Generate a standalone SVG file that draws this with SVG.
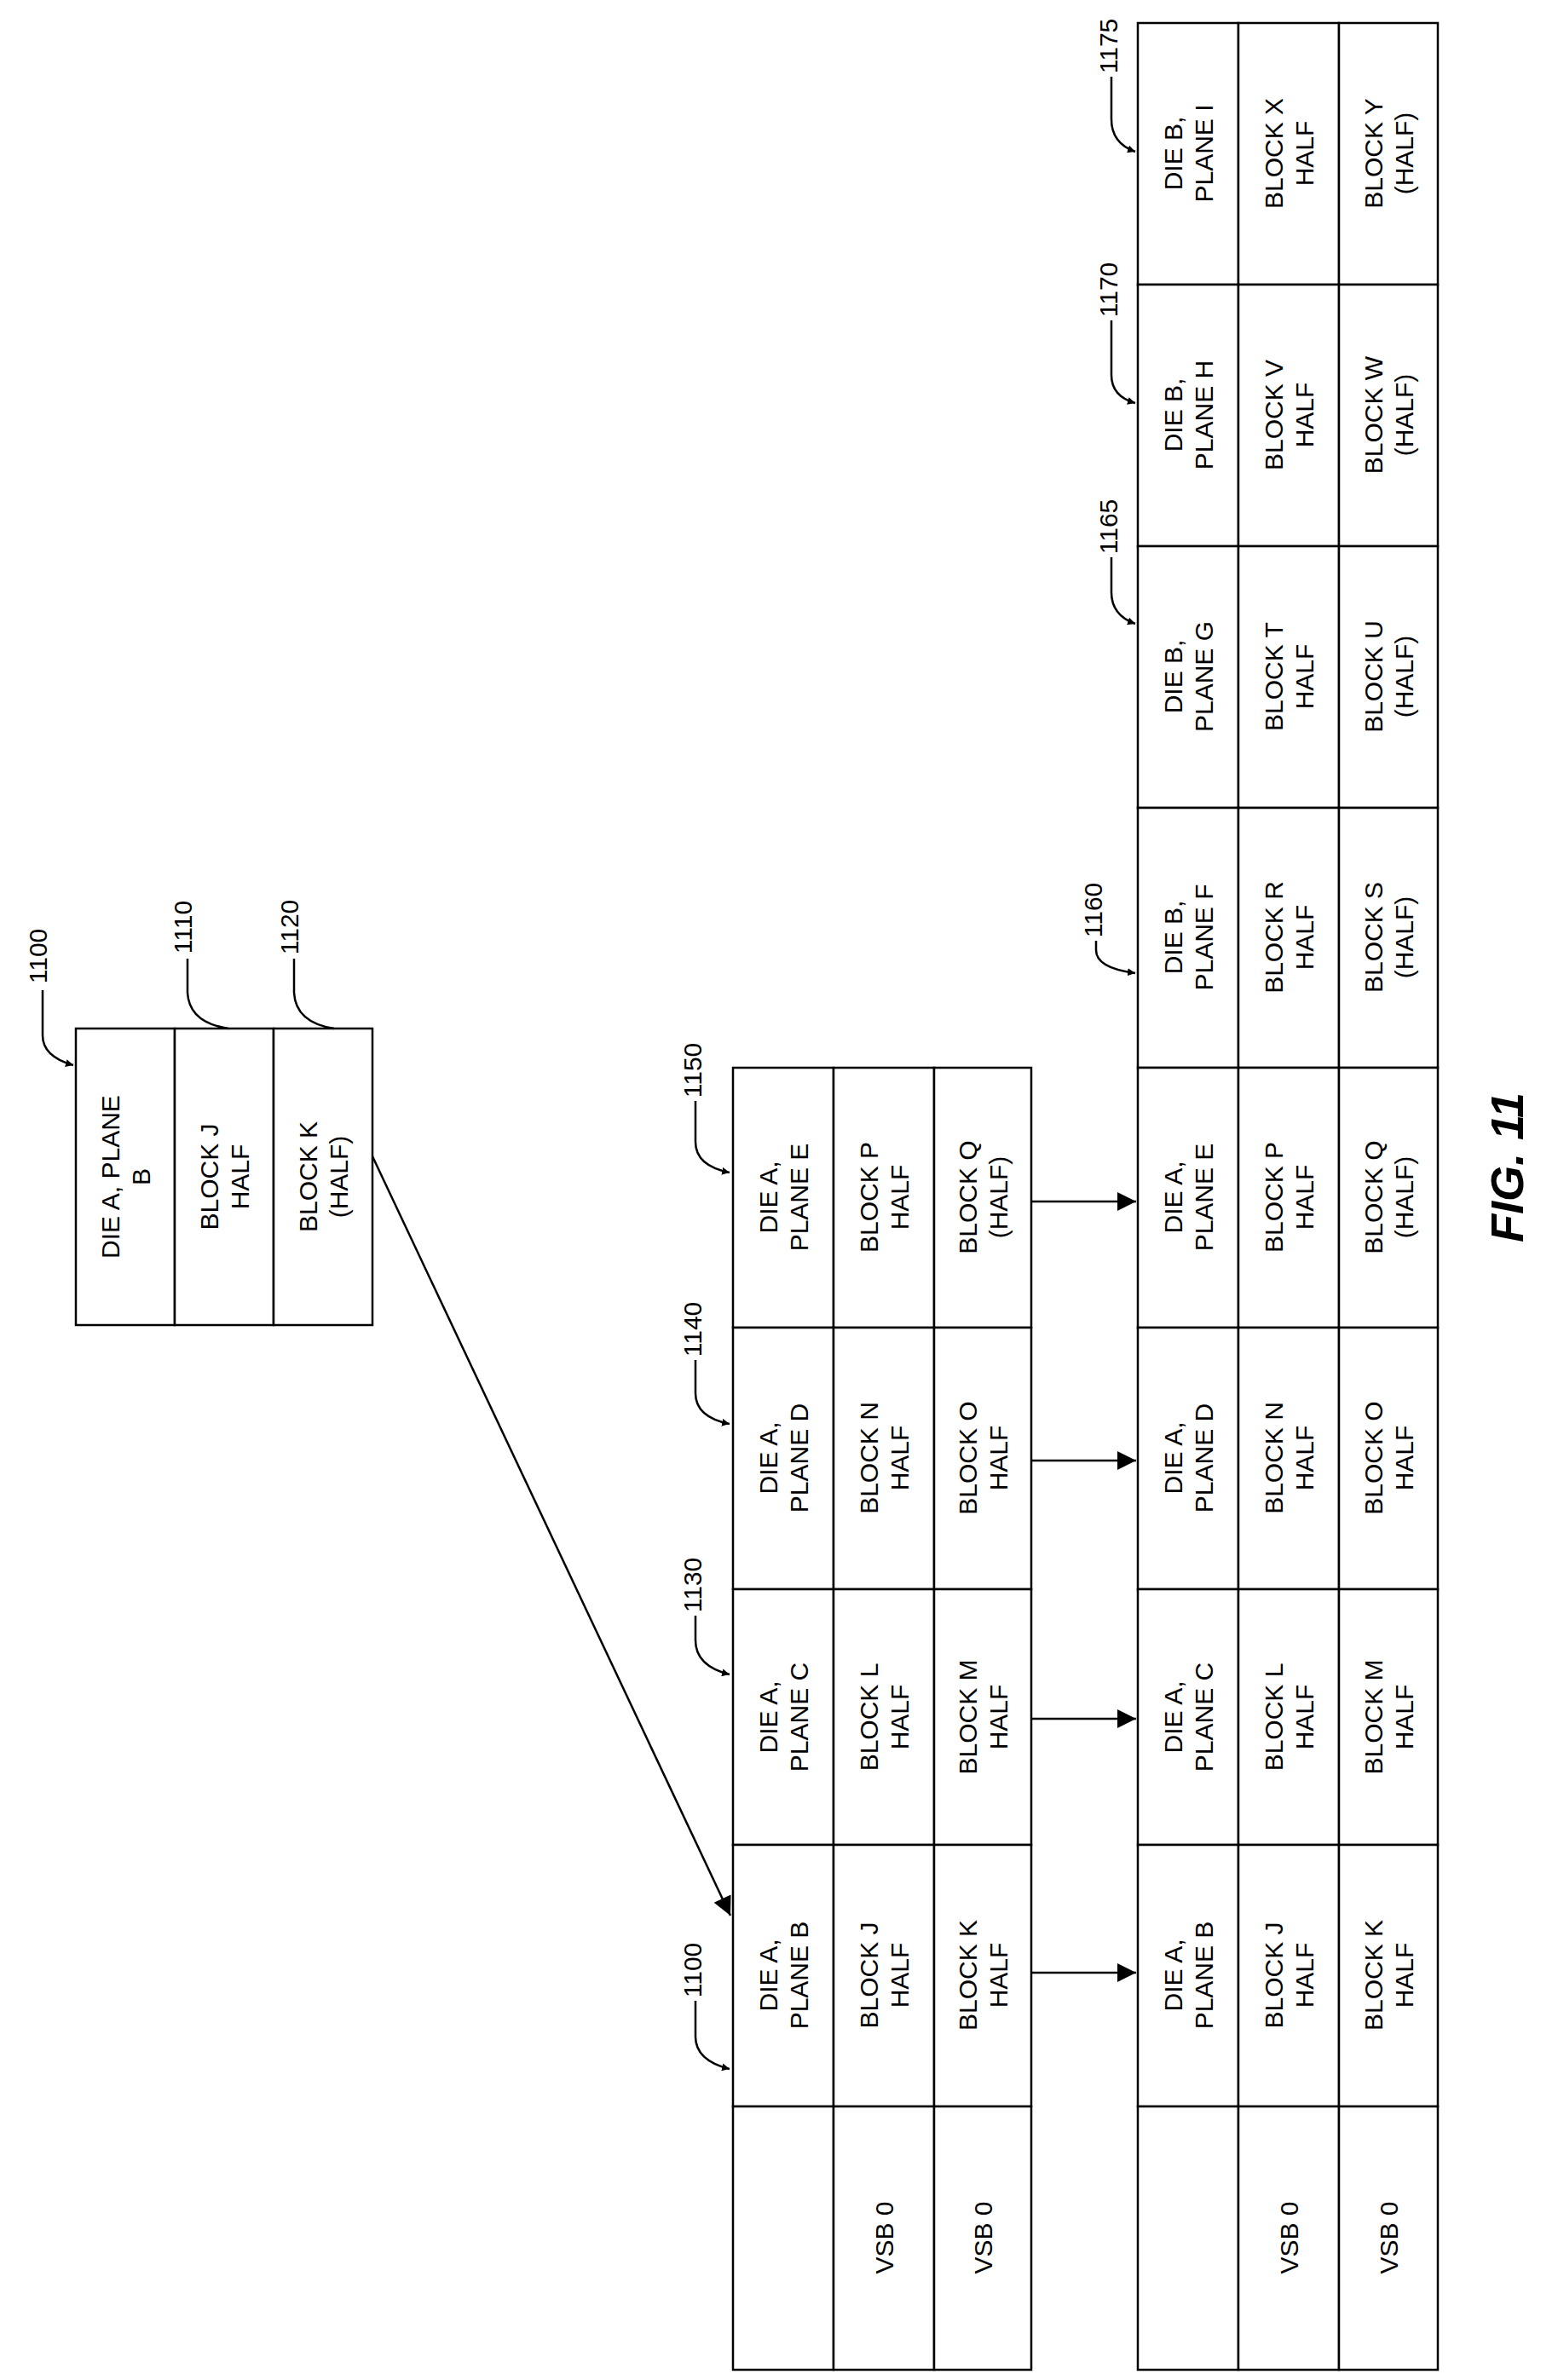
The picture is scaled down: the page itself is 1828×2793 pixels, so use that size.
<svg xmlns="http://www.w3.org/2000/svg" width="1828" height="2793" viewBox="0 0 1828 2793">
<style>
.c{fill:#fff;stroke:#000;stroke-width:2.5}
text{font-family:"Liberation Sans",Arial,sans-serif;font-size:30px;fill:#000;text-anchor:middle;dominant-baseline:central}
.l{fill:none;stroke:#000;stroke-width:2.5}
.fig{font-size:54px;font-weight:bold;font-style:italic}
</style>
<defs>
<marker id="a" viewBox="0 0 10 10" refX="10" refY="5" markerWidth="9" markerHeight="9" orient="auto" markerUnits="userSpaceOnUse"><path d="M0 0L10 5L0 10z"/></marker>
<marker id="b" viewBox="0 0 10 10" refX="10" refY="5" markerWidth="28" markerHeight="22" orient="auto" markerUnits="userSpaceOnUse"><path d="M0 0L10 5L0 10z" fill="#000"/></marker>
</defs>

<g id="n1100top">
<rect class="c" x="89" y="1207" width="116" height="348"/><rect class="c" x="205" y="1207" width="116" height="348"/><rect class="c" x="321" y="1207" width="116" height="348"/>
<text transform="translate(147,1381) rotate(-90)"><tspan x="0" y="-18">DIE A, PLANE</tspan><tspan x="0" y="18">B</tspan></text>
<text transform="translate(263,1381) rotate(-90)"><tspan x="0" y="-18">BLOCK J</tspan><tspan x="0" y="18">HALF</tspan></text>
<text transform="translate(379,1381) rotate(-90)"><tspan x="0" y="-18">BLOCK K</tspan><tspan x="0" y="18">(HALF)</tspan></text>
</g>

<g id="mid1150">
<rect class="c" x="860" y="1253" width="118" height="305"/><rect class="c" x="978" y="1253" width="118" height="305"/><rect class="c" x="1096" y="1253" width="114" height="305"/>
<text transform="translate(919,1405) rotate(-90)"><tspan x="0" y="-18">DIE A,</tspan><tspan x="0" y="18">PLANE E</tspan></text>
<text transform="translate(1037,1405) rotate(-90)"><tspan x="0" y="-18">BLOCK P</tspan><tspan x="0" y="18">HALF</tspan></text>
<text transform="translate(1153,1405) rotate(-90)"><tspan x="0" y="-18">BLOCK Q</tspan><tspan x="0" y="18">(HALF)</tspan></text>
</g>
<g id="mid1140">
<rect class="c" x="860" y="1558" width="118" height="307"/><rect class="c" x="978" y="1558" width="118" height="307"/><rect class="c" x="1096" y="1558" width="114" height="307"/>
<text transform="translate(919,1711) rotate(-90)"><tspan x="0" y="-18">DIE A,</tspan><tspan x="0" y="18">PLANE D</tspan></text>
<text transform="translate(1037,1711) rotate(-90)"><tspan x="0" y="-18">BLOCK N</tspan><tspan x="0" y="18">HALF</tspan></text>
<text transform="translate(1153,1711) rotate(-90)"><tspan x="0" y="-18">BLOCK O</tspan><tspan x="0" y="18">HALF</tspan></text>
</g>
<g id="mid1130">
<rect class="c" x="860" y="1865" width="118" height="300"/><rect class="c" x="978" y="1865" width="118" height="300"/><rect class="c" x="1096" y="1865" width="114" height="300"/>
<text transform="translate(919,2015) rotate(-90)"><tspan x="0" y="-18">DIE A,</tspan><tspan x="0" y="18">PLANE C</tspan></text>
<text transform="translate(1037,2015) rotate(-90)"><tspan x="0" y="-18">BLOCK L</tspan><tspan x="0" y="18">HALF</tspan></text>
<text transform="translate(1153,2015) rotate(-90)"><tspan x="0" y="-18">BLOCK M</tspan><tspan x="0" y="18">HALF</tspan></text>
</g>
<g id="mid1100">
<rect class="c" x="860" y="2165" width="118" height="307"/><rect class="c" x="978" y="2165" width="118" height="307"/><rect class="c" x="1096" y="2165" width="114" height="307"/>
<text transform="translate(919,2318) rotate(-90)"><tspan x="0" y="-18">DIE A,</tspan><tspan x="0" y="18">PLANE B</tspan></text>
<text transform="translate(1037,2318) rotate(-90)"><tspan x="0" y="-18">BLOCK J</tspan><tspan x="0" y="18">HALF</tspan></text>
<text transform="translate(1153,2318) rotate(-90)"><tspan x="0" y="-18">BLOCK K</tspan><tspan x="0" y="18">HALF</tspan></text>
</g>
<g id="midVSB">
<rect class="c" x="860" y="2472" width="118" height="309"/><rect class="c" x="978" y="2472" width="118" height="309"/><rect class="c" x="1096" y="2472" width="114" height="309"/>
<text transform="translate(1037,2626) rotate(-90)">VSB 0</text>
<text transform="translate(1153,2626) rotate(-90)">VSB 0</text>
</g>

<g id="r1175">
<rect class="c" x="1335" y="27" width="118" height="307"/><rect class="c" x="1453" y="27" width="118" height="307"/><rect class="c" x="1571" y="27" width="116" height="307"/>
<text transform="translate(1394,180) rotate(-90)"><tspan x="0" y="-18">DIE B,</tspan><tspan x="0" y="18">PLANE I</tspan></text>
<text transform="translate(1512,180) rotate(-90)"><tspan x="0" y="-18">BLOCK X</tspan><tspan x="0" y="18">HALF</tspan></text>
<text transform="translate(1629,180) rotate(-90)"><tspan x="0" y="-18">BLOCK Y</tspan><tspan x="0" y="18">(HALF)</tspan></text>
</g>
<g id="r1170">
<rect class="c" x="1335" y="334" width="118" height="307"/><rect class="c" x="1453" y="334" width="118" height="307"/><rect class="c" x="1571" y="334" width="116" height="307"/>
<text transform="translate(1394,487) rotate(-90)"><tspan x="0" y="-18">DIE B,</tspan><tspan x="0" y="18">PLANE H</tspan></text>
<text transform="translate(1512,487) rotate(-90)"><tspan x="0" y="-18">BLOCK V</tspan><tspan x="0" y="18">HALF</tspan></text>
<text transform="translate(1629,487) rotate(-90)"><tspan x="0" y="-18">BLOCK W</tspan><tspan x="0" y="18">(HALF)</tspan></text>
</g>
<g id="r1165">
<rect class="c" x="1335" y="641" width="118" height="307"/><rect class="c" x="1453" y="641" width="118" height="307"/><rect class="c" x="1571" y="641" width="116" height="307"/>
<text transform="translate(1394,794) rotate(-90)"><tspan x="0" y="-18">DIE B,</tspan><tspan x="0" y="18">PLANE G</tspan></text>
<text transform="translate(1512,794) rotate(-90)"><tspan x="0" y="-18">BLOCK T</tspan><tspan x="0" y="18">HALF</tspan></text>
<text transform="translate(1629,794) rotate(-90)"><tspan x="0" y="-18">BLOCK U</tspan><tspan x="0" y="18">(HALF)</tspan></text>
</g>
<g id="r1160">
<rect class="c" x="1335" y="948" width="118" height="305"/><rect class="c" x="1453" y="948" width="118" height="305"/><rect class="c" x="1571" y="948" width="116" height="305"/>
<text transform="translate(1394,1100) rotate(-90)"><tspan x="0" y="-18">DIE B,</tspan><tspan x="0" y="18">PLANE F</tspan></text>
<text transform="translate(1512,1100) rotate(-90)"><tspan x="0" y="-18">BLOCK R</tspan><tspan x="0" y="18">HALF</tspan></text>
<text transform="translate(1629,1100) rotate(-90)"><tspan x="0" y="-18">BLOCK S</tspan><tspan x="0" y="18">(HALF)</tspan></text>
</g>
<g id="r1150">
<rect class="c" x="1335" y="1253" width="118" height="305"/><rect class="c" x="1453" y="1253" width="118" height="305"/><rect class="c" x="1571" y="1253" width="116" height="305"/>
<text transform="translate(1394,1405) rotate(-90)"><tspan x="0" y="-18">DIE A,</tspan><tspan x="0" y="18">PLANE E</tspan></text>
<text transform="translate(1512,1405) rotate(-90)"><tspan x="0" y="-18">BLOCK P</tspan><tspan x="0" y="18">HALF</tspan></text>
<text transform="translate(1629,1405) rotate(-90)"><tspan x="0" y="-18">BLOCK Q</tspan><tspan x="0" y="18">(HALF)</tspan></text>
</g>
<g id="r1140">
<rect class="c" x="1335" y="1558" width="118" height="307"/><rect class="c" x="1453" y="1558" width="118" height="307"/><rect class="c" x="1571" y="1558" width="116" height="307"/>
<text transform="translate(1394,1711) rotate(-90)"><tspan x="0" y="-18">DIE A,</tspan><tspan x="0" y="18">PLANE D</tspan></text>
<text transform="translate(1512,1711) rotate(-90)"><tspan x="0" y="-18">BLOCK N</tspan><tspan x="0" y="18">HALF</tspan></text>
<text transform="translate(1629,1711) rotate(-90)"><tspan x="0" y="-18">BLOCK O</tspan><tspan x="0" y="18">HALF</tspan></text>
</g>
<g id="r1130">
<rect class="c" x="1335" y="1865" width="118" height="300"/><rect class="c" x="1453" y="1865" width="118" height="300"/><rect class="c" x="1571" y="1865" width="116" height="300"/>
<text transform="translate(1394,2015) rotate(-90)"><tspan x="0" y="-18">DIE A,</tspan><tspan x="0" y="18">PLANE C</tspan></text>
<text transform="translate(1512,2015) rotate(-90)"><tspan x="0" y="-18">BLOCK L</tspan><tspan x="0" y="18">HALF</tspan></text>
<text transform="translate(1629,2015) rotate(-90)"><tspan x="0" y="-18">BLOCK M</tspan><tspan x="0" y="18">HALF</tspan></text>
</g>
<g id="r1100">
<rect class="c" x="1335" y="2165" width="118" height="307"/><rect class="c" x="1453" y="2165" width="118" height="307"/><rect class="c" x="1571" y="2165" width="116" height="307"/>
<text transform="translate(1394,2318) rotate(-90)"><tspan x="0" y="-18">DIE A,</tspan><tspan x="0" y="18">PLANE B</tspan></text>
<text transform="translate(1512,2318) rotate(-90)"><tspan x="0" y="-18">BLOCK J</tspan><tspan x="0" y="18">HALF</tspan></text>
<text transform="translate(1629,2318) rotate(-90)"><tspan x="0" y="-18">BLOCK K</tspan><tspan x="0" y="18">HALF</tspan></text>
</g>
<g id="rVSB">
<rect class="c" x="1335" y="2472" width="118" height="309"/><rect class="c" x="1453" y="2472" width="118" height="309"/><rect class="c" x="1571" y="2472" width="116" height="309"/>
<text transform="translate(1512,2626) rotate(-90)">VSB 0</text>
<text transform="translate(1629,2626) rotate(-90)">VSB 0</text>
</g>

<g id="labels">
<text transform="translate(44,1122) rotate(-90)">1100</text>
<text transform="translate(214,1088) rotate(-90)">1110</text>
<text transform="translate(339,1088) rotate(-90)">1120</text>
<text transform="translate(812,1256) rotate(-90)">1150</text>
<text transform="translate(812,1560) rotate(-90)">1140</text>
<text transform="translate(812,1860) rotate(-90)">1130</text>
<text transform="translate(812,2312) rotate(-90)">1100</text>
<text transform="translate(1282,1068) rotate(-90)">1160</text>
<text transform="translate(1300,618) rotate(-90)">1165</text>
<text transform="translate(1300,340) rotate(-90)">1170</text>
<text transform="translate(1300,54) rotate(-90)">1175</text>
<text class="fig" transform="translate(1768,1370) rotate(-90)">FIG. 11</text>
</g>

<g id="connectors">
<path class="l" marker-end="url(#a)" d="M50 1162V1215Q50 1240 86 1250"/>
<path class="l" d="M220 1125V1165Q222 1200 268 1207"/>
<path class="l" d="M345 1125V1165Q347 1200 392 1207"/>
<path class="l" marker-end="url(#a)" d="M816 1292V1340Q816 1368 856 1376"/>
<path class="l" marker-end="url(#a)" d="M816 1596V1635Q816 1663 856 1671"/>
<path class="l" marker-end="url(#a)" d="M816 1896V1925Q816 1955 856 1965"/>
<path class="l" marker-end="url(#a)" d="M816 2348V2390Q816 2418 856 2428"/>
<path class="l" marker-end="url(#a)" d="M1286 1104V1115Q1286 1136 1332 1142"/>
<path class="l" marker-end="url(#a)" d="M1304 654V695Q1304 722 1332 732"/>
<path class="l" marker-end="url(#a)" d="M1304 376V440Q1304 465 1332 473"/>
<path class="l" marker-end="url(#a)" d="M1304 90V140Q1304 168 1332 178"/>
<path class="l" marker-end="url(#b)" d="M437 1357L857 2248"/>
<path class="l" marker-end="url(#b)" d="M1210 1410H1333"/>
<path class="l" marker-end="url(#b)" d="M1210 1714H1333"/>
<path class="l" marker-end="url(#b)" d="M1210 2017H1333"/>
<path class="l" marker-end="url(#b)" d="M1210 2315H1333"/>
</g>
</svg>
